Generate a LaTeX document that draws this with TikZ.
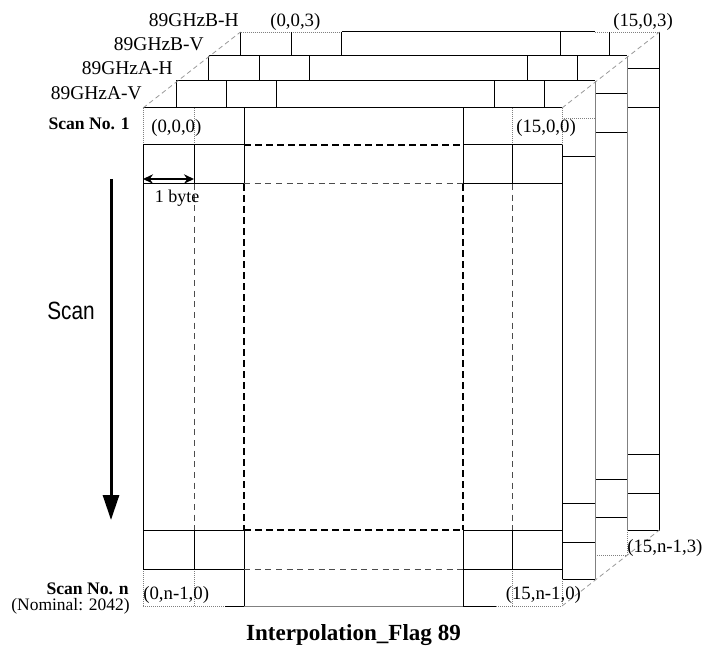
\documentclass[tikz,border=0pt]{standalone}
\usepackage{fontspec}
\setmainfont{Liberation Serif}
\newfontfamily\arialfont{Liberation Sans}
\usetikzlibrary{arrows.meta}
\begin{document}
\begin{tikzpicture}[x=0.75pt,y=-0.75pt,
  sl/.style={line width=0.75pt, black},
  gl/.style={line width=0.75pt, gray},
  dl/.style={line width=0.6pt, gray, dash pattern=on 0.75pt off 0.75pt},
  thkd/.style={line width=1.1pt, black, dash pattern=on 5.25pt off 3pt},
  thnd/.style={line width=0.75pt, black!70, dash pattern=on 4.5pt off 3.5pt},
  diag/.style={line width=0.6pt, gray!80, dash pattern=on 3.5pt off 2.5pt},
  glbl/.style={inner sep=0pt, font=\fontsize{14.6}{16}\selectfont},
  clbl/.style={inner sep=0pt, font=\fontsize{14.1}{16}\selectfont},
  slbl/.style={inner sep=0pt, font=\bfseries\fontsize{13.2}{15}\selectfont},
]
\useasboundingbox (0,0) rectangle (709,659);

% ---------- layer 3 (back) ----------
\draw[dl] (240.5,32) -- (341.5,32);
\draw[sl] (341.5,32) -- (595,32);
\draw[dl] (595,32) -- (659.5,32);
\draw[sl] (240.5,32) -- (240.5,56);
\foreach \c in {291.5,341.5,560.5,609.5} \draw[sl] (\c,32) -- (\c,56);
\draw[sl] (659.5,32) -- (659.5,530);
\draw[sl] (627,530) -- (659.5,530);
\foreach \r in {69,108,454,493} \draw[sl] (627,\r) -- (659.5,\r);

% ---------- layer 2 ----------
\draw[sl] (208.5,56) -- (627,56);
\draw[sl] (208.5,56) -- (208.5,81);
\foreach \c in {259,309,527.5,577} \draw[sl] (\c,56) -- (\c,81);
\draw[gl] (627,56) -- (627,530);
\draw[dl] (627,530) -- (627,555);
\draw[dl] (595,555) -- (627,555);
\foreach \r in {94,133,479,517.5} \draw[sl] (595,\r) -- (627,\r);

% ---------- layer 1 ----------
\draw[sl] (176,81) -- (595,81);
\draw[sl] (176,81) -- (176,108);
\foreach \c in {226.5,276.5,494.5,544.5} \draw[sl] (\c,81) -- (\c,108);
\draw[gl] (595,81) -- (595,579);
\draw[sl] (562,579) -- (595,579);
\draw[dl] (562,118) -- (595,118);
\foreach \r in {157,503,542} \draw[sl] (562,\r) -- (595,\r);

% ---------- front layer ----------
\draw[sl] (143,108) -- (562,108);
\draw[dl] (143,108) -- (143,145);
\draw[sl] (143,145) -- (143,569);
\draw[dl] (143,569) -- (143,606);
\draw[dl] (562,108) -- (562,145);
\draw[sl] (562,145) -- (562,579);
\draw[dl] (562,579) -- (562,606);
\draw[dl] (143,606) -- (225,606);
\draw[sl] (225,606) -- (244,606);
\draw[gl] (244,606) -- (463,606);
\draw[sl] (463,606) -- (496,606);
\draw[dl] (496,606) -- (562,606);
% columns
\foreach \c in {194,512} {
  \draw[dl] (\c,108) -- (\c,145);
  \draw[sl] (\c,145) -- (\c,184);
  \draw[thnd] (\c,184) -- (\c,530);
  \draw[sl] (\c,530) -- (\c,569);
  \draw[dl] (\c,569) -- (\c,606);
}
\foreach \c in {244,463} {
  \draw[sl] (\c,108) -- (\c,184);
  \draw[thkd] (\c,184) -- (\c,530);
  \draw[sl] (\c,530) -- (\c,606);
}
% rows
\foreach \r in {145,530} {
  \draw[sl] (143,\r) -- (244,\r);
  \draw[thkd] (244,\r) -- (463,\r);
  \draw[sl] (463,\r) -- (562,\r);
}
\foreach \r in {184,569} {
  \draw[sl] (143,\r) -- (244,\r);
  \draw[thnd] (244,\r) -- (463,\r);
  \draw[sl] (463,\r) -- (562,\r);
}

% ---------- corner diagonals ----------
\draw[diag] (143,108) -- (240.5,32);
\draw[diag] (562,108) -- (659.5,32);
\draw[diag] (562,606) -- (659.5,530);

% ---------- labels ----------
\node[glbl, anchor=base east] (bh) at (239,26.5) {89GHzB-H};
\node[glbl, anchor=base east] (bv) at (204,50.7) {89GHzB-V};
\node[glbl, anchor=base east] (ah) at (173,75) {89GHzA-H};
\node[glbl, anchor=base east] (av) at (142,100) {89GHzA-V};
\node[clbl, anchor=base west] (c003) at (270,26.5) {(0,0,3)};
\node[clbl, anchor=base west] (c1503) at (613,26.5) {(15,0,3)};
\node[clbl, anchor=base west] (c000) at (151,133) {(0,0,0)};
\node[clbl, anchor=base west] (c1500) at (516,133) {(15,0,0)};
\node[clbl, anchor=base west] (c0n0) at (143,599) {(0,n-1,0)};
\node[clbl, anchor=base west] (c15n0) at (505.5,599) {(15,n-1,0)};
\node[clbl, anchor=base west] (c15n3) at (627,552.5) {(15,n-1,3)};
\node[slbl, anchor=base east] (s1) at (130,129.3) {Scan No. 1};
\node[slbl, anchor=base east] (sn) at (129,594) {Scan No. n};
\node[inner sep=0pt, font=\fontsize{13.1}{15}\selectfont, anchor=base east] (nom) at (130,610.5) {(Nominal: 2042)};
\node[inner sep=0pt, font=\fontsize{13.5}{15}\selectfont, anchor=base] (byte) at (177,202.5) {1 byte};
\node[inner sep=0pt, font=\arialfont\fontsize{15.6}{17}\selectfont, anchor=base] (scan) at (71,319) {\scalebox{1}[1.2]{Scan}};
\node[inner sep=0pt, font=\bfseries\fontsize{17.3}{19}\selectfont, anchor=base] (title) at (353.5,640.5) {Interpolation\_Flag 89};

% ---------- arrows ----------
\coordinate (byteL) at (143,179);
\coordinate (byteR) at (194,179);
\draw[line width=1.1pt, {Stealth[length=7.5pt,width=7pt]}-{Stealth[length=7.5pt,width=7pt]}] (byteL) -- (byteR);
\coordinate (scanTop) at (111,179);
\coordinate (scanTip) at (111,520);
\draw[line width=2.25pt, -{Triangle[length=18.75pt,width=12pt]}] (scanTop) -- (scanTip);
\end{tikzpicture}
\end{document}
